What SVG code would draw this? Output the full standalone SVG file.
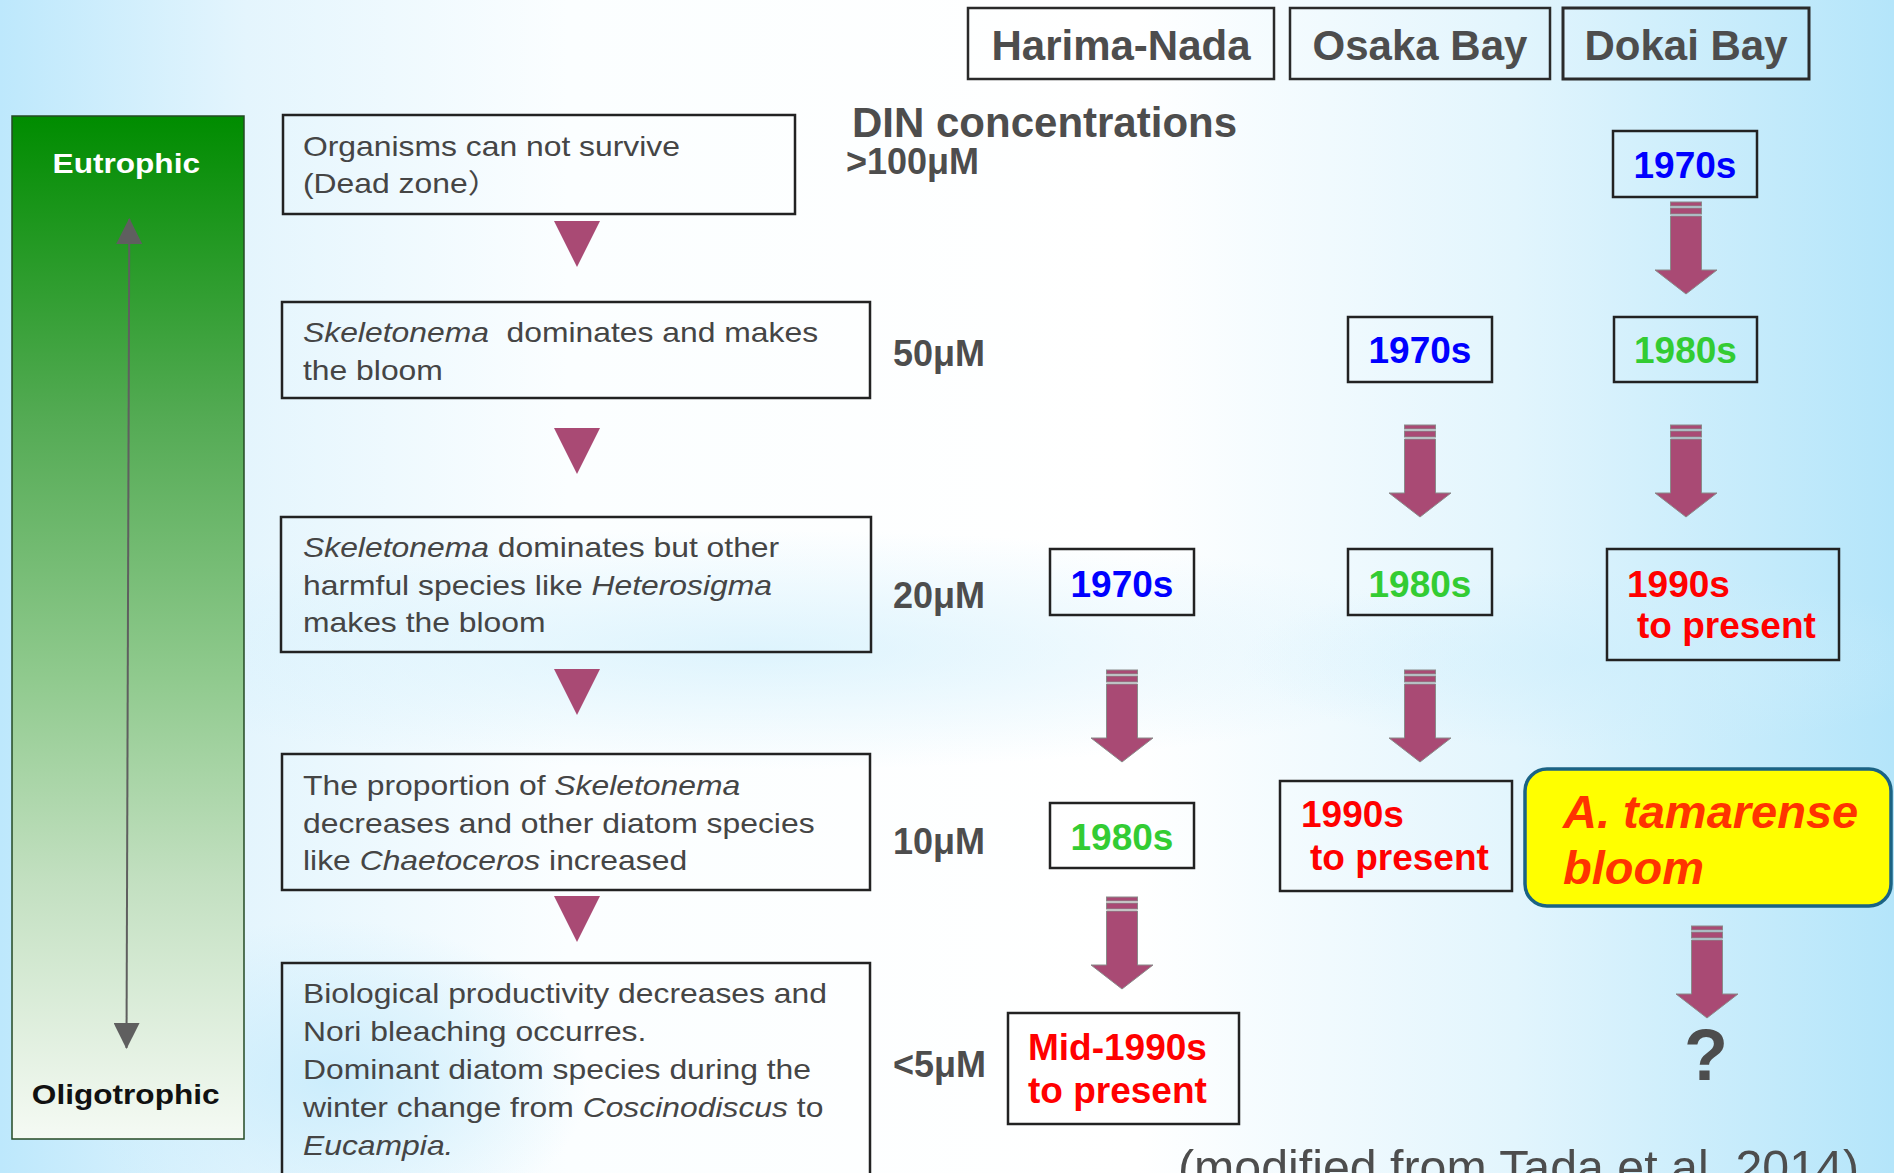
<svg xmlns="http://www.w3.org/2000/svg" width="1894" height="1173" viewBox="0 0 1894 1173">
  <defs>
    <linearGradient id="bg" x1="0" y1="0" x2="1" y2="0">
      <stop offset="0" stop-color="#bde8fc"/>
      <stop offset="0.13" stop-color="#e4f5fd"/>
      <stop offset="0.3" stop-color="#fbfeff"/>
      <stop offset="0.6" stop-color="#ffffff"/>
      <stop offset="0.8" stop-color="#e2f5fd"/>
      <stop offset="1" stop-color="#b4e5fa"/>
    </linearGradient>
    <radialGradient id="haze" cx="0.5" cy="0.5" r="0.5">
      <stop offset="0" stop-color="#cdeefc" stop-opacity="0.65"/>
      <stop offset="1" stop-color="#cdeefc" stop-opacity="0"/>
    </radialGradient>
    <radialGradient id="hazeLow" cx="0.5" cy="0.5" r="0.5">
      <stop offset="0" stop-color="#c9ecfc" stop-opacity="0.9"/>
      <stop offset="1" stop-color="#c9ecfc" stop-opacity="0"/>
    </radialGradient>
    <linearGradient id="trophic" x1="0" y1="0" x2="0" y2="1">
      <stop offset="0" stop-color="#008c00"/>
      <stop offset="0.3" stop-color="#55ab55"/>
      <stop offset="0.55" stop-color="#90ca8e"/>
      <stop offset="0.75" stop-color="#c3e0c1"/>
      <stop offset="1" stop-color="#f5faf4"/>
    </linearGradient>
    <marker id="grayHead" viewBox="0 0 26 26" refX="25" refY="13" markerWidth="26" markerHeight="26" markerUnits="userSpaceOnUse" orient="auto-start-reverse">
      <path d="M0,0 L26,13 L0,26 Z" fill="#5f5f5f"/>
    </marker>
    <!-- striped block arrow, centred on x=0, top at y=0 -->
    <g id="blockArrow" class="barrow">
      <rect x="-15.5" y="0" width="31" height="4"/>
      <rect x="-15.5" y="6" width="31" height="6"/>
      <path d="M-15.5,14 H15.5 V68 H31 L0,92 L-31,68 H-15.5 Z"/>
    </g>
    <polygon id="stepDown" points="-23,0 23,0 0,46" fill="#a94a74"/>
    <style>
      .box { fill: none; stroke: #222; stroke-width: 2.5; }
      .hdr { fill: none; stroke: #2a2a2a; stroke-width: 2.5; }
      .hdrtxt { font: bold 42px "Liberation Sans", Arial, sans-serif; fill: #4d4d4d; text-anchor: middle; }
      .conc { font: bold 36px "Liberation Sans", Arial, sans-serif; fill: #4d4d4d; }
      .desc { font: 27px "Liberation Sans", "Noto Sans CJK JP", Arial, sans-serif; fill: #454545; }
      .yr { font: bold 37px "Liberation Sans", Arial, sans-serif; }
      .mid { text-anchor: middle; }
      .blue { fill: #0000ff; }
      .green { fill: #33cc33; }
      .red { fill: #ff0000; }
      .barrow { fill: #a94a74; stroke: #8a8a8a; stroke-width: 1; }
      .it { font-style: italic; }
    </style>
  </defs>

  <!-- background -->
  <rect x="0" y="0" width="1894" height="1173" fill="url(#bg)"/>
  <ellipse cx="760" cy="650" rx="720" ry="120" fill="url(#haze)"/>
  <ellipse cx="330" cy="1080" rx="260" ry="160" fill="url(#hazeLow)"/>
  <ellipse cx="1600" cy="660" rx="360" ry="90" fill="url(#haze)"/>

  <!-- trophic scale bar -->
  <g id="trophic-scale">
    <rect x="12" y="116" width="232" height="1023" fill="url(#trophic)" stroke="#244a24" stroke-width="1.5"/>
    <text transform="translate(126.3,172.7) scale(1.17,1)" text-anchor="middle" style="font: bold 27px 'Liberation Sans', Arial, sans-serif; fill: #ffffff;">Eutrophic</text>
    <text transform="translate(125.7,1104) scale(1.17,1)" text-anchor="middle" style="font: bold 27px 'Liberation Sans', Arial, sans-serif; fill: #111111;">Oligotrophic</text>
  </g>

  <!-- column headers -->
  <g id="hdr-harima">
    <rect class="hdr" x="968" y="8" width="306" height="71"/>
    <text class="hdrtxt" x="1121" y="60">Harima-Nada</text>
  </g>
  <g id="hdr-osaka">
    <rect class="hdr" x="1290" y="8" width="260" height="71"/>
    <text class="hdrtxt" x="1420" y="60">Osaka Bay</text>
  </g>
  <g id="hdr-dokai">
    <rect class="hdr" x="1563" y="8" width="246" height="71" style="stroke-width:3"/>
    <text class="hdrtxt" x="1686" y="60">Dokai Bay</text>
  </g>

  <!-- DIN concentration scale -->
  <g id="din-scale">
    <text x="852" y="137" style="font: bold 42px 'Liberation Sans', Arial, sans-serif; fill: #4d4d4d;">DIN concentrations</text>
    <text class="conc" x="846" y="174">&gt;100μM</text>
    <text class="conc" x="893" y="366">50μM</text>
    <text class="conc" x="893" y="608">20μM</text>
    <text class="conc" x="893" y="854">10μM</text>
    <text class="conc" x="893" y="1077">&lt;5μM</text>
  </g>

  <!-- phytoplankton stages -->
  <g id="stage-deadzone">
    <rect class="box" x="283" y="115" width="512" height="99"/>
    <text class="desc" transform="translate(303,156) scale(1.18,1)">Organisms can not survive</text>
    <text class="desc" transform="translate(303,193) scale(1.18,1)">(Dead zone）</text>
  </g>
  <g id="stage-skeletonema">
    <rect class="box" x="282" y="302" width="588" height="96"/>
    <text class="desc" transform="translate(303,342) scale(1.18,1)"><tspan class="it">Skeletonema</tspan>&#160; dominates and makes</text>
    <text class="desc" transform="translate(303,380) scale(1.18,1)">the bloom</text>
  </g>
  <g id="stage-heterosigma">
    <rect class="box" x="281" y="517" width="590" height="135"/>
    <text class="desc" transform="translate(303,557) scale(1.18,1)"><tspan class="it">Skeletonema</tspan> dominates but other</text>
    <text class="desc" transform="translate(303,595) scale(1.18,1)">harmful species like <tspan class="it">Heterosigma</tspan></text>
    <text class="desc" transform="translate(303,632) scale(1.18,1)">makes the bloom</text>
  </g>
  <g id="stage-chaetoceros">
    <rect class="box" x="282" y="754" width="588" height="136"/>
    <text class="desc" transform="translate(303,795) scale(1.18,1)">The proportion of <tspan class="it">Skeletonema</tspan></text>
    <text class="desc" transform="translate(303,833) scale(1.18,1)">decreases and other diatom species</text>
    <text class="desc" transform="translate(303,870) scale(1.18,1)">like <tspan class="it">Chaetoceros</tspan> increased</text>
  </g>
  <g id="stage-oligotrophic">
    <rect class="box" x="282" y="963" width="588" height="230"/>
    <text class="desc" transform="translate(303,1003) scale(1.18,1)">Biological productivity decreases and</text>
    <text class="desc" transform="translate(303,1041) scale(1.18,1)">Nori bleaching occurres.</text>
    <text class="desc" transform="translate(303,1079) scale(1.18,1)">Dominant diatom species during the</text>
    <text class="desc" transform="translate(303,1117) scale(1.18,1)">winter change from <tspan class="it">Coscinodiscus</tspan> to</text>
    <text class="desc" transform="translate(303,1155) scale(1.18,1)"><tspan class="it">Eucampia.</tspan></text>
  </g>

  <!-- Harima-Nada periods -->
  <g id="harima-1970s">
    <rect class="box" x="1050" y="549" width="144" height="66"/>
    <text class="yr blue mid" x="1122" y="597">1970s</text>
  </g>
  <g id="harima-1980s">
    <rect class="box" x="1050" y="803" width="144" height="65"/>
    <text class="yr green mid" x="1122" y="850">1980s</text>
  </g>
  <g id="harima-mid1990s">
    <rect class="box" x="1008" y="1013" width="231" height="111"/>
    <text class="yr red" x="1028" y="1060">Mid-1990s</text>
    <text class="yr red" x="1028" y="1103">to present</text>
  </g>

  <!-- Osaka Bay periods -->
  <g id="osaka-1970s">
    <rect class="box" x="1348" y="317" width="144" height="65"/>
    <text class="yr blue mid" x="1420" y="363">1970s</text>
  </g>
  <g id="osaka-1980s">
    <rect class="box" x="1348" y="549" width="144" height="66"/>
    <text class="yr green mid" x="1420" y="597">1980s</text>
  </g>
  <g id="osaka-1990s">
    <rect class="box" x="1280" y="781" width="232" height="110"/>
    <text class="yr red" x="1301" y="827">1990s</text>
    <text class="yr red" x="1310" y="870">to present</text>
  </g>

  <!-- Dokai Bay periods -->
  <g id="dokai-1970s">
    <rect class="box" x="1613" y="131" width="144" height="66"/>
    <text class="yr blue mid" x="1685" y="178">1970s</text>
  </g>
  <g id="dokai-1980s">
    <rect class="box" x="1614" y="317" width="143" height="65"/>
    <text class="yr green mid" x="1685.5" y="363">1980s</text>
  </g>
  <g id="dokai-1990s">
    <rect class="box" x="1607" y="549" width="232" height="111"/>
    <text class="yr red" x="1627" y="597">1990s</text>
    <text class="yr red" x="1637" y="638">to present</text>
  </g>
  <g id="dokai-tamarense">
    <rect x="1525" y="769" width="366" height="137" rx="22" ry="22" fill="#ffff00" stroke="#1b6384" stroke-width="3.5"/>
    <text x="1563" y="828" style="font: italic bold 47px 'Liberation Sans', Arial, sans-serif; fill: #ff3300;">A. tamarense</text>
    <text x="1563" y="884" style="font: italic bold 47px 'Liberation Sans', Arial, sans-serif; fill: #ff3300;">bloom</text>
  </g>
  <g id="dokai-unknown">
    <text x="1706" y="1080" text-anchor="middle" style="font: bold 72px 'Liberation Sans', Arial, sans-serif; fill: #4d4d4d;">?</text>
  </g>

  <!-- source note -->
  <g id="source-note">
    <text x="1178" y="1184" style="font: 48.3px 'Liberation Sans', Arial, sans-serif; fill: #4d4d4d;">(modified from Tada et al. 2014)</text>
  </g>

  <!-- connectors -->
  <g id="connectors">
    <line x1="129.3" y1="219" x2="126.5" y2="1048" stroke="#5f5f5f" stroke-width="2" marker-start="url(#grayHead)" marker-end="url(#grayHead)"/>

    <use href="#stepDown" x="577" y="221"/>
    <use href="#stepDown" x="577" y="428"/>
    <use href="#stepDown" x="577" y="669"/>
    <use href="#stepDown" x="577" y="896"/>

    <use href="#blockArrow" x="1686" y="202"/>
    <use href="#blockArrow" x="1420" y="425"/>
    <use href="#blockArrow" x="1686" y="425"/>
    <use href="#blockArrow" x="1122" y="670"/>
    <use href="#blockArrow" x="1420" y="670"/>
    <use href="#blockArrow" x="1122" y="897"/>
    <use href="#blockArrow" x="1707" y="926"/>
  </g>
</svg>
